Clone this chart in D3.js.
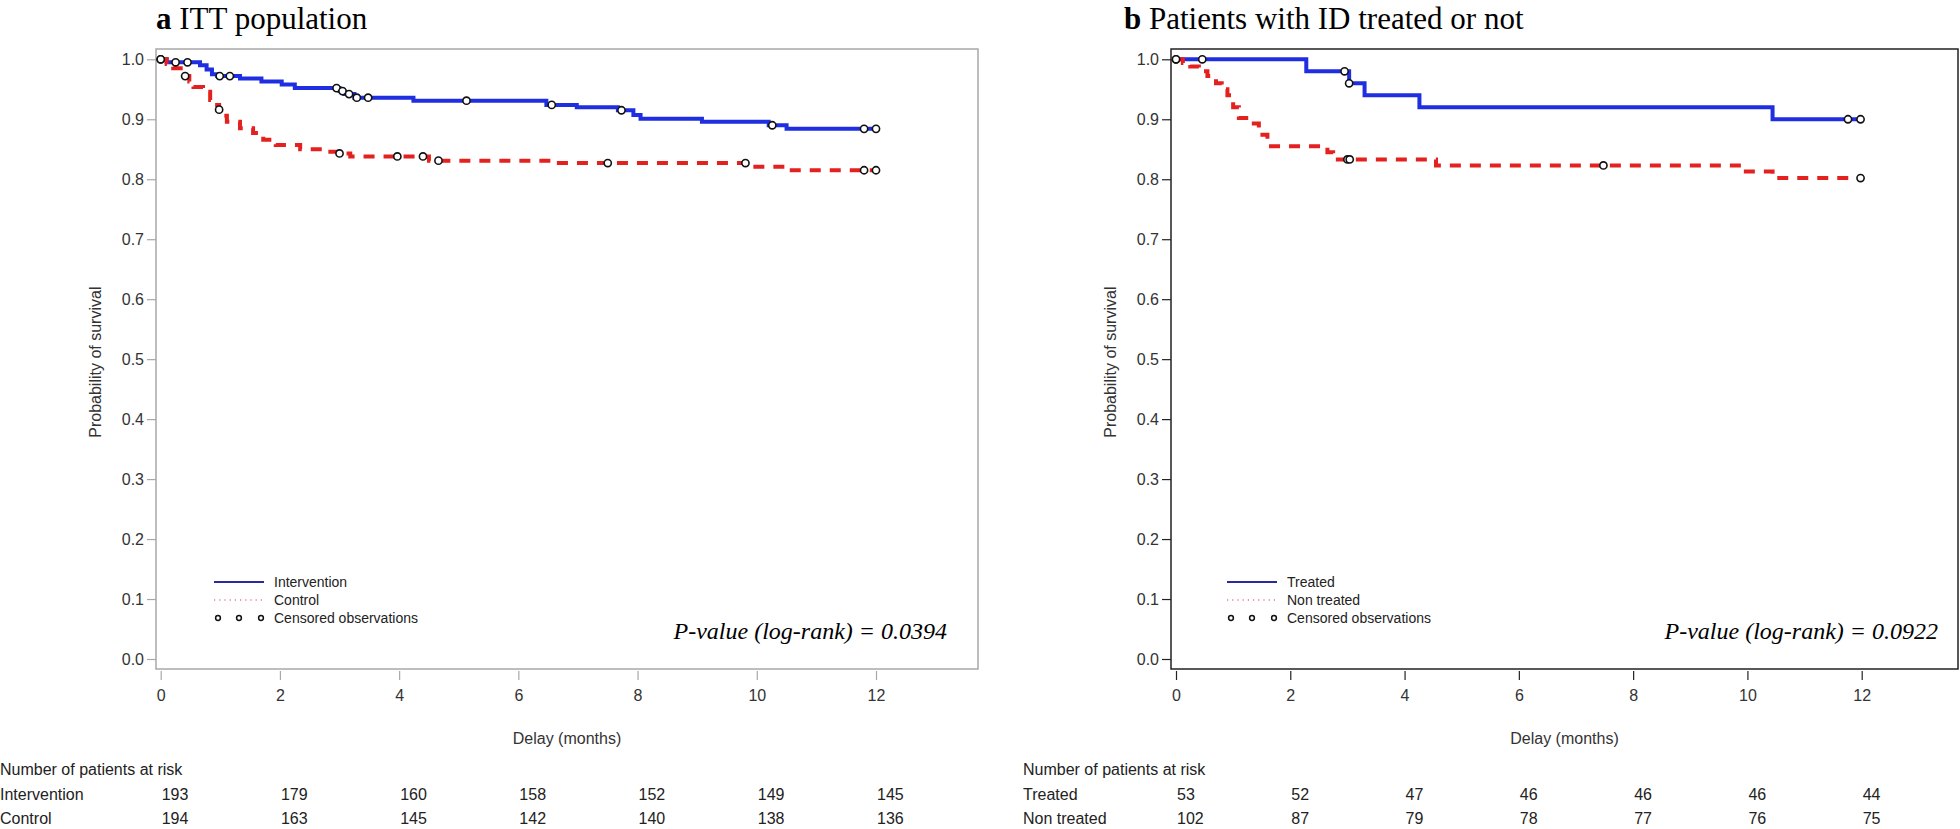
<!DOCTYPE html>
<html>
<head>
<meta charset="utf-8">
<script src="https://cdn.jsdelivr.net/npm/d3@7/dist/d3.min.js"></script>
<style>
  body { margin: 0; background: #fff; }
  svg { display: block; }
</style>
</head>
<body>
<div id="chart"></div>
<script>
// ---- data ----
const monthTicks = [0, 2, 4, 6, 8, 10, 12]
const survTicks = [0, 0.1, 0.2, 0.3, 0.4, 0.5, 0.6, 0.7, 0.8, 0.9, 1.0]

// panel a: ITT population
const ittInterventionTime = [0, 0.1, 0.66, 0.77, 0.86, 0.95, 1.33, 1.69, 2.03, 2.25, 3.0, 3.08, 3.25, 4.24, 6.47, 6.98, 7.67, 7.93, 8.05, 9.08, 10.2, 10.5, 12.0]
const ittInterventionSurv = [1.0, 0.995, 0.99, 0.983, 0.975, 0.972, 0.968, 0.963, 0.958, 0.952, 0.947, 0.942, 0.936, 0.931, 0.924, 0.92, 0.915, 0.907, 0.901, 0.896, 0.89, 0.884, 0.884]
const ittInterventionCensT = [0, 0.25, 0.45, 0.99, 1.16, 2.95, 3.05, 3.16, 3.29, 3.48, 5.13, 6.56, 7.73, 10.26, 11.8, 12.0]
const ittInterventionCensS = [1.0, 0.995, 0.995, 0.972, 0.972, 0.952, 0.947, 0.942, 0.936, 0.936, 0.931, 0.924, 0.915, 0.89, 0.884, 0.884]

const ittControlTime = [0, 0.1, 0.21, 0.41, 0.48, 0.55, 0.71, 0.83, 0.9, 0.98, 1.05, 1.11, 1.33, 1.55, 1.72, 1.93, 2.34, 2.79, 3.0, 3.18, 4.5, 6.68, 9.94, 10.5, 12.0]
const ittControlSurv = [1.0, 0.992, 0.985, 0.972, 0.963, 0.954, 0.946, 0.932, 0.924, 0.916, 0.906, 0.896, 0.885, 0.877, 0.866, 0.857, 0.85, 0.846, 0.843, 0.838, 0.831, 0.827, 0.821, 0.815, 0.815]
const ittControlCensT = [0, 0.41, 0.98, 3.0, 3.97, 4.4, 4.66, 7.5, 9.81, 11.8, 12.0]
const ittControlCensS = [1.0, 0.972, 0.916, 0.843, 0.838, 0.838, 0.831, 0.827, 0.827, 0.815, 0.815]

// panel b: patients with ID treated or not
const idTreatedTime = [0, 2.28, 3.03, 3.3, 4.26, 10.44, 12.0]
const idTreatedSurv = [1.0, 0.98, 0.96, 0.94, 0.92, 0.90, 0.90]
const idTreatedCensT = [0, 0.46, 2.95, 3.03, 11.76, 11.98]
const idTreatedCensS = [1.0, 1.0, 0.98, 0.96, 0.90, 0.90]

const idNonTreatedTime = [0, 0.12, 0.25, 0.4, 0.55, 0.7, 0.8, 0.9, 1.0, 1.1, 1.3, 1.45, 1.6, 2.65, 2.75, 4.55, 9.85, 10.44, 12.0]
const idNonTreatedSurv = [1.0, 0.994, 0.988, 0.98, 0.972, 0.96, 0.95, 0.94, 0.92, 0.902, 0.893, 0.874, 0.855, 0.845, 0.833, 0.823, 0.813, 0.802, 0.802]
const idNonTreatedCensT = [0, 3.0, 3.04, 7.48, 11.98]
const idNonTreatedCensS = [1.0, 0.833, 0.833, 0.823, 0.802]

// numbers at risk
const ittAtRiskIntervention = [193, 179, 160, 158, 152, 149, 145]
const ittAtRiskControl = [194, 163, 145, 142, 140, 138, 136]
const idAtRiskTreated = [53, 52, 47, 46, 46, 46, 44]
const idAtRiskNonTreated = [102, 87, 79, 78, 77, 76, 75]

const BLUE = "#1e2ee0"
const RED = "#e3211f"
const SANS = "'Liberation Sans', Arial, sans-serif"
const SERIF = "'Liberation Serif', 'Times New Roman', serif"

const panels = [
  {
    letter: "a", title: "ITT population", titleX: 156,
    frame: { left: 156, right: 978, top: 49, bottom: 669 }, frameColor: "#a8a8a8",
    xRange: [160.7, 876],
    curves: [
      { t: ittInterventionTime, s: ittInterventionSurv, ct: ittInterventionCensT, cs: ittInterventionCensS, color: BLUE, dash: null },
      { t: ittControlTime, s: ittControlSurv, ct: ittControlCensT, cs: ittControlCensS, color: RED, dash: "11,9" },
    ],
    legend: ["Intervention", "Control", "Censored observations"], legendX: 214,
    pvalue: "P-value (log-rank) = 0.0394", pRight: 947,
    tableX: 0,
    rows: [["Intervention", ittAtRiskIntervention], ["Control", ittAtRiskControl]],
  },
  {
    letter: "b", title: "Patients with ID treated or not", titleX: 1124,
    frame: { left: 1171, right: 1958, top: 49, bottom: 669 }, frameColor: "#222",
    xRange: [1176, 1861.7],
    curves: [
      { t: idTreatedTime, s: idTreatedSurv, ct: idTreatedCensT, cs: idTreatedCensS, color: BLUE, dash: null },
      { t: idNonTreatedTime, s: idNonTreatedSurv, ct: idNonTreatedCensT, cs: idNonTreatedCensS, color: RED, dash: "11,9" },
    ],
    legend: ["Treated", "Non treated", "Censored observations"], legendX: 1227,
    pvalue: "P-value (log-rank) = 0.0922", pRight: 1938,
    tableX: 1023,
    rows: [["Treated", idAtRiskTreated], ["Non treated", idAtRiskNonTreated]],
  },
]

const svg = d3.select("#chart").append("svg")
  .attr("width", 1960)
  .attr("height", 829)

panels.forEach(p => {
  const g = svg.append("g")
  const x = d3.scaleLinear().domain([0, 12]).range(p.xRange)
  const y = d3.scaleLinear().domain([0, 1]).range([659, 59.3])
  const f = p.frame

  // Title
  const title = g.append("text")
    .attr("x", p.titleX)
    .attr("y", 29)
    .attr("font-family", SERIF)
    .attr("font-size", 31)
    .attr("fill", "#000")
  title.append("tspan").attr("font-weight", "bold").text(p.letter)
  title.append("tspan").text(" " + p.title)

  // Frame
  g.append("rect")
    .attr("x", f.left)
    .attr("y", f.top)
    .attr("width", f.right - f.left)
    .attr("height", f.bottom - f.top)
    .attr("fill", "none")
    .attr("stroke", p.frameColor)
    .attr("stroke-width", 1.5)

  // Y axis
  const yAxis = g.append("g")
    .attr("transform", `translate(${f.left},0)`)
    .call(d3.axisLeft(y).tickValues(survTicks).tickFormat(d3.format(".1f")).tickSize(9).tickPadding(3))
  yAxis.select(".domain").remove()
  yAxis.selectAll(".tick line").attr("stroke", p.frameColor).attr("stroke-width", 1.2)
  yAxis.selectAll(".tick text")
    .attr("font-family", SANS).attr("font-size", 16).attr("fill", "#333")

  // X axis
  const xAxis = g.append("g")
    .attr("transform", `translate(0,${f.bottom + 2})`)
    .call(d3.axisBottom(x).tickValues(monthTicks).tickFormat(d3.format("d")).tickSize(9).tickPadding(10))
  xAxis.select(".domain").remove()
  xAxis.selectAll(".tick line").attr("stroke", p.frameColor).attr("stroke-width", 1.2)
  xAxis.selectAll(".tick text")
    .attr("font-family", SANS).attr("font-size", 16).attr("fill", "#333")

  // Axis labels
  g.append("text")
    .attr("transform", `translate(${f.left - 55},${y(0.5) + 3}) rotate(-90)`)
    .attr("text-anchor", "middle")
    .attr("font-family", SANS).attr("font-size", 16).attr("fill", "#333")
    .text("Probability of survival")

  g.append("text")
    .attr("x", (f.left + f.right) / 2)
    .attr("y", 744)
    .attr("text-anchor", "middle")
    .attr("font-family", SANS).attr("font-size", 16).attr("fill", "#333")
    .text("Delay (months)")

  // Survival curves (Kaplan-Meier steps)
  const line = d3.line()
    .x(d => x(d[0]))
    .y(d => y(d[1]))
    .curve(d3.curveStepAfter)

  p.curves.forEach(c => {
    g.append("path")
      .datum(c.t.map((t, i) => [t, c.s[i]]))
      .attr("d", line)
      .attr("fill", "none")
      .attr("stroke", c.color)
      .attr("stroke-width", 4)
      .attr("stroke-dasharray", c.dash)
  })

  // Censored marks
  p.curves.forEach(c => {
    g.append("g")
      .selectAll("circle")
      .data(c.ct.map((t, i) => [t, c.cs[i]]))
      .join("circle")
      .attr("cx", d => x(d[0]))
      .attr("cy", d => y(d[1]))
      .attr("r", 3.6)
      .attr("fill", "#fff")
      .attr("stroke", "#111")
      .attr("stroke-width", 1.6)
  })

  // Legend
  const lg = g.append("g").attr("font-family", SANS).attr("font-size", 14).attr("fill", "#222")
  const ly = [582, 600, 618]
  lg.append("line")
    .attr("x1", p.legendX).attr("x2", p.legendX + 50)
    .attr("y1", ly[0]).attr("y2", ly[0])
    .attr("stroke", "#2a2a9c").attr("stroke-width", 2)
  lg.append("line")
    .attr("x1", p.legendX).attr("x2", p.legendX + 50)
    .attr("y1", ly[1]).attr("y2", ly[1])
    .attr("stroke", "#c84050").attr("stroke-width", 1.2).attr("stroke-dasharray", "1.2,4")
  lg.selectAll("circle.leg")
    .data([0, 21, 43])
    .join("circle")
    .attr("class", "leg")
    .attr("cx", d => p.legendX + 4 + d)
    .attr("cy", ly[2])
    .attr("r", 2.4)
    .attr("fill", "#fff")
    .attr("stroke", "#111")
    .attr("stroke-width", 1.5)
  p.legend.forEach((txt, i) => {
    lg.append("text")
      .attr("x", p.legendX + 60)
      .attr("y", ly[i] + 5)
      .text(txt)
  })

  // P-value
  g.append("text")
    .attr("x", p.pRight)
    .attr("y", 639)
    .attr("text-anchor", "end")
    .attr("font-family", SERIF)
    .attr("font-style", "italic")
    .attr("font-size", 24)
    .attr("fill", "#000")
    .text(p.pvalue)

  // Number at risk table
  const tg = g.append("g").attr("font-family", SANS).attr("font-size", 16).attr("fill", "#222")
  tg.append("text").attr("x", p.tableX).attr("y", 775).text("Number of patients at risk")
  p.rows.forEach(([label, vals], r) => {
    const ry = 800 + r * 24
    tg.append("text").attr("x", p.tableX).attr("y", ry).text(label)
    tg.selectAll(null)
      .data(vals)
      .join("text")
      .attr("x", (d, i) => x(monthTicks[i]) + 1)
      .attr("y", ry)
      .text(d => d)
  })
})
</script>
</body>
</html>
